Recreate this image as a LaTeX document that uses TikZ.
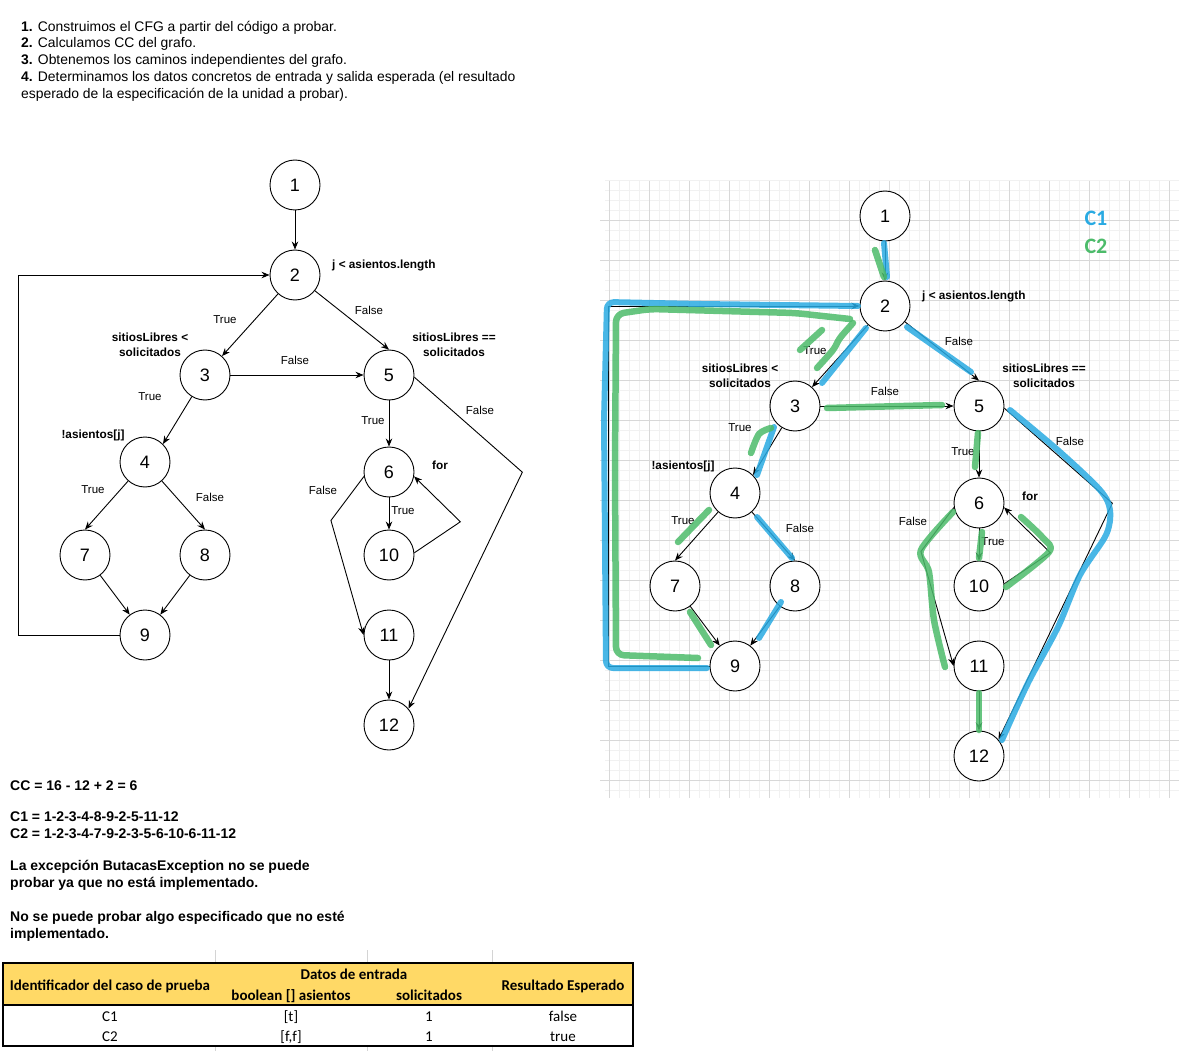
\documentclass[tikz,border=0pt]{standalone}
\usepackage{fontspec}
\setmainfont{Liberation Sans}
\newfontfamily\calibrifont{Carlito}
\usetikzlibrary{arrows.meta, positioning}

\definecolor{pathblue}{RGB}{41,170,226}
\definecolor{pathgreen}{RGB}{76,187,106}
\definecolor{hdryellow}{RGB}{255,217,102}
\definecolor{gridmajor}{RGB}{216,216,216}
\definecolor{gridminor}{RGB}{241,241,241}
\definecolor{cellgray}{RGB}{212,212,212}

% the control flow graph, drawn once plain and once over the grid
\newcommand{\cfgdraw}{%
  \node[cfgnode] (n1) at (295,185) {1};
  \node[cfgnode] (n2) at (295,275) {2};
  \node[cfgnode] (n3) at (205,375) {3};
  \node[cfgnode] (n4) at (145,462) {4};
  \node[cfgnode] (n5) at (389,375) {5};
  \node[cfgnode] (n6) at (389,472) {6};
  \node[cfgnode] (n7) at (85,555) {7};
  \node[cfgnode] (n8) at (205,555) {8};
  \node[cfgnode] (n9) at (145,635) {9};
  \node[cfgnode] (n10) at (389,555) {10};
  \node[cfgnode] (n11) at (389,635) {11};
  \node[cfgnode] (n12) at (389,725) {12};

  \draw[flow] (n1) -- (n2);
  \draw[flow] (n2) -- (n3);
  \draw[flow] (n2) -- (n5.north);
  \draw[flow] (n3) -- (n5);
  \draw[flow] (n3) -- (n4.north east);
  \draw[flow] (n4) -- (n7.north);
  \draw[flow] (n4) -- (n8.north);
  \draw[flow] (n7) -- (n9);
  \draw[flow] (n8) -- (n9);
  \draw[flow] (n9.west) -- ++(-101,0) |- (n2.west);
  \draw[flow] (n5) -- (n6);
  \draw[flow] (n6) -- (n10);
  \draw[flow] (n10.5) -- ++(46,-31) -- (n6.-10);
  \draw[flow] (n6.190) -- ++(-33,44) -- (n11.west);
  \draw[flow] (n5.-5) -- ++(108,95) -- (n12.40);
  \draw[flow] (n11) -- (n12);

  % branch labels
  \node[lbl] (l23) at (225,320) {True};
  \node[lbl] (l25) at (369,310) {False};
  \node[lbl] (l35) at (295,360) {False};
  \node[lbl] (l34) at (150,397) {True};
  \node[lbl] (l47) at (93,490) {True};
  \node[lbl] (l48) at (210,497) {False};
  \node[lbl] (l56) at (373,421) {True};
  \node[lbl] (l611) at (323,490) {False};
  \node[lbl] (l610) at (403,511) {True};
  \node[lbl] (l512) at (480,410) {False};

  % conditions
  \node[cond, anchor=west] (c2) at (332,265) {j < asientos.length};
  \node[cond] (c3) at (150,345) {sitiosLibres <\\solicitados};
  \node[cond] (c5) at (454,345) {sitiosLibres ==\\solicitados};
  \node[cond] (c4) at (93,435) {!asientos[j]};
  \node[cond] (c6) at (440,465) {for};
}

\begin{document}
\begin{tikzpicture}[
    x=1pt, y=-1pt,
    cfgnode/.style={draw, circle, fill=white, minimum size=50pt, inner sep=0pt, line width=0.9pt, font=\fontsize{18}{20}\selectfont},
    flow/.style={-{Stealth[length=8pt, width=6.5pt]}, line width=0.9pt},
    lbl/.style={inner sep=0pt, font=\fontsize{11.5}{13}\selectfont},
    cond/.style={inner sep=0pt, align=center, font=\bfseries\fontsize{11.8}{15}\selectfont},
    note/.style={inner sep=0pt, align=left, anchor=west, font=\bfseries\fontsize{14}{17}\selectfont},
    c1mark/.style={pathblue, opacity=0.85, line width=6pt, line cap=round, line join=round},
    c2mark/.style={pathgreen, opacity=0.85, line width=6.5pt, line cap=round, line join=round},
    cell/.style={inner sep=0pt, text height=10pt, text depth=0pt, font=\calibrifont\fontsize{15}{17}\selectfont},
    hcell/.style={inner sep=0pt, text height=10pt, text depth=0pt, font=\calibrifont\bfseries\fontsize{15}{17}\selectfont},
]
  \useasboundingbox (0,0) rectangle (1179,1051);

  \node[inner sep=0pt, align=left, anchor=west, font=\fontsize{13.9}{16.75}\selectfont] (steps) at (21,61) {%
    \textbf{1.} Construimos el CFG a partir del código a probar.\\
    \textbf{2.} Calculamos CC del grafo.\\
    \textbf{3.} Obtenemos los caminos independientes del grafo.\\
    \textbf{4.} Determinamos los datos concretos de entrada y salida esperada (el resultado\\
    esperado de la especificación de la unidad a probar).};

  % plain graph
  \begin{scope}[name prefix=a-]
    \cfgdraw
  \end{scope}

  % grid behind the marked copy
  \foreach \gx in {609,619,...,1179} \draw[gridminor, line width=0.6pt] (\gx,181) -- (\gx,798);
  \foreach \gy in {180,190,...,790} \draw[gridminor, line width=0.6pt] (605,\gy) -- (1179,\gy);
  \foreach \gx in {609,649,...,1169} \draw[gridmajor, line width=0.8pt] (\gx,181) -- (\gx,798);
  \foreach \gy in {220,260,...,780} \draw[gridmajor, line width=0.8pt] (600,\gy) -- (1179,\gy);

  \begin{scope}[name prefix=b-, shift={(590,31)}]
    \cfgdraw
  \end{scope}

  % C1 marks
  \draw[c1mark] (884,243) -- (887,277);
  \draw[c1mark, rounded corners=7pt] (858,306) -- (700,304) -- (607,302) -- (604,420) -- (606,668) -- (707,668);
  \draw[c1mark] (866,328) -- (822,383);
  \draw[c1mark] (774,427) -- (757,475);
  \draw[c1mark] (757,517) -- (792,558);
  \draw[c1mark] (781,602) -- (759,638);
  \draw[c1mark] (907,327) -- (971,372);
  \draw[c1mark] plot[smooth] coordinates {(1010,410) (1060,452) (1100,490) (1110,510) (1106,535) (1080,575) (1058,627) (1028,683) (1002,740)};

  % C2 marks
  \draw[c2mark] (875,250) -- (884,277);
  \draw[c2mark, rounded corners=8pt] (850,319) -- (795,313) -- (650,309) -- (616,314) -- (615,470) -- (616,655) -- (698,658);
  \draw[c2mark] (822,330) -- (800,350);
  \draw[c2mark] plot[smooth] coordinates {(853,323) (840,338) (833,350) (817,368)};
  \draw[c2mark] (827,408) -- (942,405);
  \draw[c2mark] plot[smooth] coordinates {(771,428) (759,434) (751,453)};
  \draw[c2mark] (709,510) -- (678,542);
  \draw[c2mark] (690,612) -- (711,645);
  \draw[c2mark] (978,433) -- (975,467);
  \draw[c2mark] (982,532) -- (979,558);
  \draw[c2mark] plot[smooth] coordinates {(1006,587) (1049,552) (1043,538) (1021,517)};
  \draw[c2mark] plot[smooth] coordinates {(953,512) (921,550) (929,572) (934,620) (945,667)};
  \draw[c2mark] (979,693) -- (979,730);

  \node[text=pathblue, font=\calibrifont\bfseries\fontsize{22}{24}\selectfont] (legc1) at (1096,218) {C1};
  \node[text=pathgreen, font=\calibrifont\bfseries\fontsize{22}{24}\selectfont] (legc2) at (1096,246) {C2};

  % notes
  \node[note] (cc) at (10,786) {CC = 16 - 12 + 2 = 6};
  \node[note] (paths) at (10,825.5) {C1 = 1-2-3-4-8-9-2-5-11-12\\C2 = 1-2-3-4-7-9-2-3-5-6-10-6-11-12};
  \node[note] (exc) at (10,875.5) {La excepción ButacasException no se puede\\probar ya que no está implementado.};
  \node[note] (spec) at (10,926.5) {No se puede probar algo especificado que no esté\\implementado.};

  % test case table
  \foreach \cx in {215,367,492} {
    \draw[cellgray, line width=0.6pt] (\cx,950) -- (\cx,963);
    \draw[cellgray, line width=0.6pt] (\cx,1046) -- (\cx,1051);
  }
  \fill[hdryellow] (3,963) rectangle (633,1005);
  \draw[line width=2pt] (3,963) rectangle (633,1046);
  \draw[line width=2pt] (3,1005) -- (633,1005);
  \node[hcell] (hid) at (110,985) {Identificador del caso de prueba};
  \node[hcell] (hdatos) at (354,974) {Datos de entrada};
  \node[hcell] (hasi) at (291,995) {boolean [] asientos};
  \node[hcell] (hsol) at (429,995) {solicitados};
  \node[hcell] (hres) at (563,985) {Resultado Esperado};
  \node[cell] (r1id) at (110,1016) {C1};
  \node[cell] (r1asi) at (291,1016) {[t]};
  \node[cell] (r1sol) at (429,1016) {1};
  \node[cell] (r1res) at (563,1016) {false};
  \node[cell] (r2id) at (110,1036) {C2};
  \node[cell] (r2asi) at (291,1036) {[f,f]};
  \node[cell] (r2sol) at (429,1036) {1};
  \node[cell] (r2res) at (563,1036) {true};
\end{tikzpicture}
\end{document}
